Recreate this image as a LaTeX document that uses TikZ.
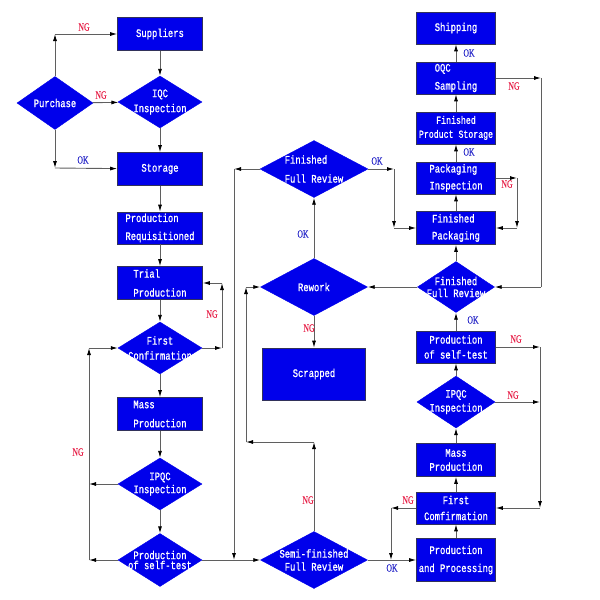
\documentclass[tikz,border=0pt]{standalone}
\usepackage{fontspec}
\newfontfamily\boxfont[FakeBold=0.8,FakeStretch=0.77]{Liberation Mono}
\newfontfamily\tagfont[FakeBold=0.5,FakeStretch=0.7]{Liberation Serif}
\usetikzlibrary{shapes,arrows.meta,positioning}
\definecolor{boxblue}{RGB}{0,0,235}
\definecolor{boxline}{RGB}{50,50,90}
\definecolor{flowgray}{RGB}{95,95,95}
\definecolor{ngred}{RGB}{230,30,70}
\definecolor{okblue}{RGB}{40,40,200}
\tikzset{
	box/.style={rectangle, draw=boxline, fill=boxblue, text=white, line width=0.6pt, inner sep=0pt, align=center, minimum width=85pt, minimum height=33pt, font=\fontsize{11.5}{18}\selectfont\boxfont},
	rbox/.style={box, minimum width=79pt, minimum height=32pt},
	dia/.style={diamond, draw=boxblue, fill=boxblue, text=white, align=center, inner xsep=-30pt, inner ysep=-16pt, minimum width=84pt, minimum height=52pt, font=\fontsize{11.5}{15}\selectfont\boxfont},
	lsp/.style={font=\fontsize{11.5}{#1}\selectfont\boxfont},
	ng/.style={text=ngred, inner sep=0pt, font=\fontsize{11}{11}\selectfont\tagfont},
	ok/.style={text=okblue, inner sep=0pt, font=\fontsize{11}{11}\selectfont\tagfont},
	flow/.style={draw=flowgray, line width=0.9pt},
	>={Latex[length=7pt,width=4pt,color=black]}
}

\begin{document}
\begin{tikzpicture}[x=1pt,y=-1pt]
				\useasboundingbox (0,0) rectangle (600,600);
				% left column
				\node[box] (sup) at (160,34) {Suppliers};
				\node[dia] (iqc) at (160,102) {IQC\\Inspection};
				\node[dia, minimum width=76pt, minimum height=53pt] (pur) at (55,103) {Purchase};
				\node[box] (sto) at (160,169) {Storage};
				\node[box, align=left, minimum height=32pt] (req) at (160,228) {Production\\Requisitioned};
				\node[box, align=left, lsp=19] (trial) at (160,283) {Trial\\Production};
				\node[dia] (fc) at (160,348) {First\\Confirmation};
				\node[box, align=left, lsp=19] (mass) at (160,414) {Mass\\Production};
				\node[dia, lsp=13] (ipqc) at (160,484) {IPQC\\Inspection};
				\node[dia, lsp=10, minimum height=53pt] (st) at (160,560) {Production\\of self-test};
				% middle column
				\node[dia, align=left, lsp=19, minimum width=108pt, minimum height=57pt] (ffr) at (314,169) {Finished\\Full Review};
				\node[dia, minimum width=107pt, minimum height=57pt] (rew) at (314,287) {Rework};
				\node[box, minimum width=103pt, minimum height=52pt] (scr) at (314,374) {Scrapped};
				\node[dia, lsp=13, minimum width=107pt, minimum height=57pt] (sfr) at (314,560) {Semi-finished\\Full Review};
				% right column
				\node[rbox] (ship) at (456,28) {Shipping};
				\node[rbox, align=left] (oqc) at (456,78) {OQC\\Sampling};
				\node[rbox, font=\fontsize{10.7}{14}\selectfont\boxfont] (fps) at (456,128) {Finished\\Product Storage};
				\node[rbox, align=left, lsp=17] (pki) at (456,178) {Packaging\\Inspection};
				\node[rbox, align=left, lsp=17, minimum height=33pt] (fpk) at (456,228) {Finished\\Packaging};
				\node[dia, lsp=12, minimum width=77pt, minimum height=51pt] (ffr2) at (456,287) {Finished\\Full Review};
				\node[rbox, lsp=15] (pst) at (456,347) {Production\\of self-test};
				\node[dia, lsp=14, minimum width=78pt] (ipqc2) at (456,402) {IPQC\\Inspection};
				\node[rbox, lsp=14, minimum height=33pt] (mass2) at (456,460) {Mass\\Production};
				\node[rbox, lsp=16] (fc2) at (456,508) {First\\Comfirmation};
				\node[rbox, lsp=18, minimum height=43pt] (pp) at (456,560) {Production\\and Processing};
				
				\coordinate (c1) at (55,34);
				\coordinate (c2) at (55,168);
				\coordinate (c3) at (222,348);
				\coordinate (c4) at (222,283);
				\coordinate (c5) at (89,484);
				\coordinate (c6) at (89,560);
				\coordinate (c7) at (89,348);
				\coordinate (c8) at (234,169);
				\coordinate (c9) at (234,560);
				\coordinate (c10) at (394,169);
				\coordinate (c11) at (394,228);
				\coordinate (c12) at (314,442);
				\coordinate (c13) at (246,442);
				\coordinate (c14) at (246,287);
				\coordinate (c15) at (541,78);
				\coordinate (c16) at (541,287);
				\coordinate (c17) at (517,178);
				\coordinate (c18) at (517,228);
				\coordinate (c19) at (540,347);
				\coordinate (c20) at (540,402);
				\coordinate (c21) at (540,508);
				\coordinate (c22) at (391,508);
				\coordinate (c23) at (391,560);
				
				\draw[flow,->] (sup) -- (iqc);
				\draw[flow,->] (iqc) -- (sto);
				\draw[flow,->] (sto) -- (req);
				\draw[flow,->] (req) -- (trial);
				\draw[flow,->] (trial) -- (fc);
				\draw[flow,->] (fc) -- (mass);
				\draw[flow,->] (mass) -- (ipqc);
				\draw[flow,->] (ipqc) -- (st);
				\draw[flow,->] (pur) -- (c1);
				\draw[flow,->] (c1) -- (sup);
				\draw[flow,->] (pur) -- (iqc);
				\draw[flow,->] (pur) -- (c2);
				\draw[flow,->] (c2) -- (sto);
				\draw[flow,->] (fc) -- (c3);
				\draw[flow,->] (c3) -- (c4);
				\draw[flow,->] (c4) -- (trial);
				\draw[flow,->] (ipqc) -- (c5);
				\draw[flow,->] (st) -- (c6);
				\draw[flow,->] (c6) -- (c7);
				\draw[flow,->] (c7) -- (fc);
				\draw[flow,->] (st) -- (sfr);
				\draw[flow,->] (ffr) -- (c8);
				\draw[flow,->] (c8) -- (c9);
				\draw[flow,->] (ffr) -- (c10);
				\draw[flow,->] (c10) -- (c11);
				\draw[flow,->] (c11) -- (fpk);
				\draw[flow,->] (rew) -- (ffr);
				\draw[flow,->] (rew) -- (scr);
				\draw[flow,->] (sfr) -- (c12);
				\draw[flow,->] (c12) -- (c13);
				\draw[flow,->] (c13) -- (c14);
				\draw[flow,->] (c14) -- (rew);
				\draw[flow,->] (ffr2) -- (rew);
				\draw[flow,->] (pp) -- (fc2);
				\draw[flow,->] (fc2) -- (mass2);
				\draw[flow,->] (mass2) -- (ipqc2);
				\draw[flow,->] (ipqc2) -- (pst);
				\draw[flow,->] (pst) -- (ffr2);
				\draw[flow,->] (ffr2) -- (fpk);
				\draw[flow,->] (fpk) -- (pki);
				\draw[flow,->] (pki) -- (fps);
				\draw[flow,->] (fps) -- (oqc);
				\draw[flow,->] (oqc) -- (ship);
				\draw[flow,->] (oqc) -- (c15);
				\draw[flow] (c15) -- (c16);
				\draw[flow,->] (c16) -- (ffr2);
				\draw[flow,->] (pki) -- (c17);
				\draw[flow,->] (c17) -- (c18);
				\draw[flow,->] (c18) -- (fpk);
				\draw[flow,->] (pst) -- (c19);
				\draw[flow,->] (ipqc2) -- (c20);
				\draw[flow,->] (c19) -- (c21);
				\draw[flow,->] (c21) -- (fc2);
				\draw[flow,->] (fc2) -- (c22);
				\draw[flow,->] (c22) -- (c23);
				\draw[flow,->] (sfr) -- (pp);
				
				\node[ng] (ng1) at (84,27) {NG};
				\node[ng] (ng2) at (101,95) {NG};
				\node[ok] (ok1) at (83,160) {OK};
				\node[ng] (ng3) at (212,314) {NG};
				\node[ng] (ng4) at (78,452) {NG};
				\node[ok] (ok2) at (377,161) {OK};
				\node[ok] (ok3) at (303,234) {OK};
				\node[ng] (ng5) at (309,328) {NG};
				\node[ng] (ng6) at (308,500) {NG};
				\node[ok] (ok4) at (392,568) {OK};
				\node[ng] (ng7) at (408,500) {NG};
				\node[ng] (ng8) at (516,339) {NG};
				\node[ng] (ng9) at (513,395) {NG};
				\node[ok] (ok5) at (473,320) {OK};
				\node[ok] (ok6) at (469,53) {OK};
				\node[ok] (ok7) at (469,152) {OK};
				\node[ng] (ng10) at (514,86) {NG};
				\node[ng] (ng11) at (507,184) {NG};
			\end{tikzpicture}
\end{document}
